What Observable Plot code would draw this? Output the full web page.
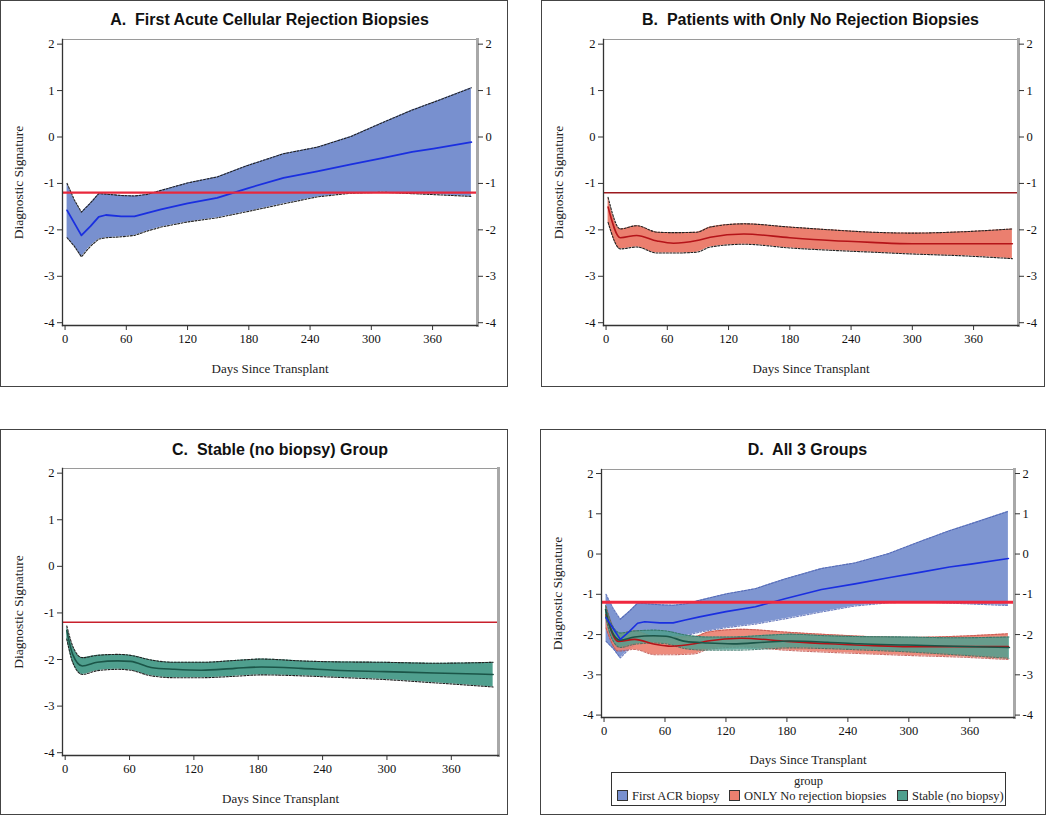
<!DOCTYPE html>
<html>
<head>
<meta charset="utf-8">
<script src="https://cdn.jsdelivr.net/npm/d3@7"></script>
<script src="https://cdn.jsdelivr.net/npm/@observablehq/plot@0.6"></script>
<style>
  body { margin:0; background:#fff; }
  #root { position:relative; width:1050px; height:815px; background:#fff; overflow:hidden; }
  .box { position:absolute; border:1.5px solid #444; box-sizing:border-box; }
  .title { position:absolute; font-family:"Liberation Sans", Arial, sans-serif; font-weight:bold; font-size:16px; color:#111; text-align:center; white-space:pre; }
  .plot { position:absolute; }
  .legend { position:absolute; border:1.5px solid #333; box-sizing:border-box; font-family:"Liberation Serif", "Times New Roman", serif; color:#222; }
  .legend .hdr { position:absolute; left:0; right:0; top:1px; text-align:center; font-size:12.5px; }
  .legend .item { position:absolute; top:16px; font-size:12.5px; white-space:nowrap; }
  .legend .sw { display:inline-block; width:9px; height:9px; border:1px solid #333; margin-right:4px; vertical-align:-1px; }
</style>
</head>
<body>
<div id="root"></div>
<script>
// ---------- data ----------
const xTicks = [0, 60, 120, 180, 240, 300, 360];
const yTicks = [-4, -3, -2, -1, 0, 1, 2];
const threshold = -1.2;

// A. First ACR biopsy
const daysA  = [2, 9, 16, 25, 33, 40, 55, 68, 80, 94, 120, 149, 178, 214, 247, 280, 312, 340, 361, 398];
const meanA  = [-1.58, -1.85, -2.12, -1.92, -1.72, -1.68, -1.71, -1.71, -1.64, -1.56, -1.43, -1.31, -1.11, -0.88, -0.74, -0.59, -0.45, -0.32, -0.25, -0.11];
const upperA = [-1.0, -1.35, -1.62, -1.42, -1.22, -1.23, -1.26, -1.27, -1.24, -1.15, -0.99, -0.86, -0.62, -0.36, -0.22, 0.01, 0.32, 0.58, 0.75, 1.06];
const lowerA = [-2.17, -2.35, -2.58, -2.35, -2.2, -2.17, -2.15, -2.12, -2.03, -1.94, -1.83, -1.74, -1.61, -1.44, -1.29, -1.21, -1.19, -1.22, -1.24, -1.28];

// B. ONLY No rejection biopsies
const daysB  = [2, 14, 30, 50, 66, 89, 102, 135, 180, 220, 260, 300, 350, 398];
const meanB  = [-1.51, -2.17, -2.12, -2.24, -2.29, -2.23, -2.16, -2.09, -2.17, -2.23, -2.27, -2.30, -2.30, -2.30];
const upperB = [-1.30, -1.98, -1.91, -2.05, -2.06, -2.05, -1.94, -1.87, -1.94, -2.00, -2.05, -2.07, -2.04, -1.98];
const lowerB = [-1.84, -2.41, -2.37, -2.50, -2.50, -2.48, -2.37, -2.31, -2.39, -2.44, -2.48, -2.52, -2.56, -2.62];

// C. Stable (no biopsy)
const daysC  = [1.5, 7, 16, 30, 49, 61, 80, 102, 127, 158, 183, 220, 251, 298, 344, 399];
const meanC  = [-1.38, -1.89, -2.14, -2.06, -2.03, -2.04, -2.17, -2.21, -2.23, -2.19, -2.16, -2.19, -2.23, -2.26, -2.29, -2.32];
const upperC = [-1.28, -1.71, -1.96, -1.91, -1.89, -1.91, -2.01, -2.06, -2.06, -2.02, -1.99, -2.03, -2.05, -2.06, -2.08, -2.06];
const lowerC = [-1.56, -2.06, -2.32, -2.24, -2.21, -2.23, -2.35, -2.39, -2.39, -2.36, -2.33, -2.35, -2.38, -2.43, -2.50, -2.59];

const groupNames = ["First ACR biopsy", "ONLY No rejection biopsies", "Stable (no biopsy)"];

// ---------- styles ----------
const styles = {
  A: {fill:"#7890cf", line:"#1a2fe0", edge:"#222", curve:"linear"},
  B: {fill:"#eb7f6f", line:"#b51419", edge:"#222", curve:"monotone-x"},
  C: {fill:"#4f9f8e", line:"#1b5548", edge:"#222", curve:"monotone-x"}
};

function rows(days, mean, lo, hi) {
  return days.map((d, i) => ({day: d, mean: mean[i], lo: lo[i], hi: hi[i]}));
}
const data = {
  A: rows(daysA, meanA, lowerA, upperA),
  B: rows(daysB, meanB, lowerB, upperB),
  C: rows(daysC, meanC, lowerC, upperC)
};

function bandMarks(key, opts = {}) {
  const s = styles[key], r = data[key];
  const op = opts.opacity ?? 1;
  return [
    Plot.areaY(r, {x:"day", y1:"lo", y2:"hi", fill:s.fill, fillOpacity:op, curve:s.curve}),
    Plot.line(r, {x:"day", y:"hi", stroke:opts.edge ?? s.edge, strokeWidth:1.1, strokeDasharray:"2,1.5", curve:s.curve, strokeOpacity: opts.edgeOpacity ?? 1}),
    Plot.line(r, {x:"day", y:"lo", stroke:opts.edge ?? s.edge, strokeWidth:1.1, strokeDasharray:"2,1.5", curve:s.curve, strokeOpacity: opts.edgeOpacity ?? 1})
  ];
}
function meanMark(key, w = 1.6) {
  const s = styles[key];
  return Plot.line(data[key], {x:"day", y:"mean", stroke:s.line, strokeWidth:w, curve:s.curve});
}

const fmt = d => String(d);

function makePlot(cfg) {
  const marks = [
    ...cfg.marks,
    Plot.ruleY([threshold], {stroke: cfg.redColor, strokeWidth: cfg.redWidth}),
    Plot.frame({anchor:"top", stroke:"#9a9a9a", strokeWidth:1}),
    Plot.frame({anchor:"right", stroke:"#a8a8a8", strokeWidth:3}),
    Plot.frame({anchor:"left", stroke:"#333", strokeWidth:1.3}),
    Plot.frame({anchor:"bottom", stroke:"#333", strokeWidth:1.3}),
    Plot.axisY(yTicks, {anchor:"left", tickSize:5, tickPadding:3, tickFormat:fmt, label:null, stroke:"#333", fill:"#111", fontSize:12.5}),
    Plot.axisX(xTicks, {anchor:"bottom", tickSize:5, tickPadding:4, tickFormat:fmt, label:null, stroke:"#333", fill:"#111", fontSize:12.5}),
    Plot.text(["Days Since Transplant"], {frameAnchor:"bottom", dy: cfg.xLabelDy, lineAnchor:"middle", fontSize:13, fill:"#222"}),
    Plot.text(["Diagnostic Signature"], {frameAnchor:"left", dx: cfg.yLabelDx, rotate:-90, lineAnchor:"middle", textAnchor:"middle", fontSize:13.5, fill:"#222"})
  ];
  if (cfg.rightAxis) {
    marks.push(Plot.axisY(yTicks, {anchor:"right", tickSize:5, tickPadding:3, tickFormat:fmt, label:null, stroke:"#333", fill:"#111", fontSize:12.5}));
  }
  return Plot.plot({
    width: cfg.width, height: cfg.height,
    marginLeft: cfg.ml, marginRight: cfg.mr, marginTop: cfg.mt, marginBottom: cfg.mb,
    x: {domain: [-2.5, 404]},
    y: {domain: [-4.06, 2.1]},
    style: {fontFamily: '"Liberation Serif", "Times New Roman", serif', fontSize: "12.5px", background: "transparent", overflow: "visible"},
    marks
  });
}

const root = document.getElementById("root");
function addBox(l, t, w, h) {
  const d = document.createElement("div");
  d.className = "box";
  Object.assign(d.style, {left: l + "px", top: t + "px", width: w + "px", height: h + "px"});
  root.appendChild(d);
}
function addTitle(text, l, t, w) {
  const d = document.createElement("div");
  d.className = "title";
  d.textContent = text;
  Object.assign(d.style, {left: l + "px", top: t + "px", width: w + "px"});
  root.appendChild(d);
}
function addPlot(svg, l, t) {
  const wrap = document.createElement("div");
  wrap.className = "plot";
  Object.assign(wrap.style, {left: l + "px", top: t + "px"});
  wrap.appendChild(svg);
  root.appendChild(wrap);
}

// Panel A
addBox(0, 0, 508, 387);
addTitle("A.  First Acute Cellular Rejection Biopsies", 62, 11, 415);
addPlot(makePlot({width:510, height:390, ml:62, mr:33, mt:39, mb:65, rightAxis:true,
  xLabelDy:43, yLabelDx:-44, redColor:"#e8283c", redWidth:2.2,
  marks:[...bandMarks("A"), meanMark("A", 1.8)]}), 0, 0);

// Panel B
addBox(541, 0, 504, 387);
addTitle("B.  Patients with Only No Rejection Biopsies", 603, 11, 415);
addPlot(makePlot({width:520, height:390, ml:73, mr:32, mt:39, mb:65, rightAxis:true,
  xLabelDy:43, yLabelDx:-45, redColor:"#9c1a1f", redWidth:1.6,
  marks:[...bandMarks("B"), meanMark("B", 1.6)]}), 530, 0);

// Panel C
addBox(0, 429, 508, 386);
addTitle("C.  Stable (no biopsy) Group", 62, 441, 436);
addPlot(makePlot({width:510, height:405, ml:62, mr:12, mt:58, mb:60, rightAxis:false,
  xLabelDy:43, yLabelDx:-44, redColor:"#c8202c", redWidth:1.6,
  marks:[...bandMarks("C"), meanMark("C", 1.6)]}), 0, 410);

// Panel D
addBox(540, 429, 506, 386);
addTitle("D.  All 3 Groups", 601, 441, 413);
addPlot(makePlot({width:520, height:405, ml:71, mr:36, mt:59, mb:98, rightAxis:true,
  xLabelDy:42, yLabelDx:-44, redColor:"#f0283f", redWidth:3,
  marks:[
    ...bandMarks("A", {opacity:0.95, edge:"#4a5fb0", edgeOpacity:0.8}),
    ...bandMarks("B", {opacity:0.9, edge:"#c0504a", edgeOpacity:0.8}),
    ...bandMarks("C", {opacity:0.85, edge:"#2f6f62", edgeOpacity:0.8}),
    meanMark("B", 1.6), meanMark("C", 1.6), meanMark("A", 1.6)
  ]}), 530, 410);

// Legend for D
const leg = document.createElement("div");
leg.className = "legend";
Object.assign(leg.style, {left: "611px", top: "772px", width: "395px", height: "34px"});
const hdr = document.createElement("div");
hdr.className = "hdr"; hdr.textContent = "group";
leg.appendChild(hdr);
const itemLeft = [5, 117, 285];
groupNames.forEach((g, i) => {
  const it = document.createElement("div");
  it.className = "item";
  it.style.left = itemLeft[i] + "px";
  const sw = document.createElement("span");
  sw.className = "sw";
  sw.style.background = [styles.A.fill, styles.B.fill, styles.C.fill][i];
  it.appendChild(sw);
  it.appendChild(document.createTextNode(g));
  leg.appendChild(it);
});
root.appendChild(leg);
</script>
</body>
</html>
